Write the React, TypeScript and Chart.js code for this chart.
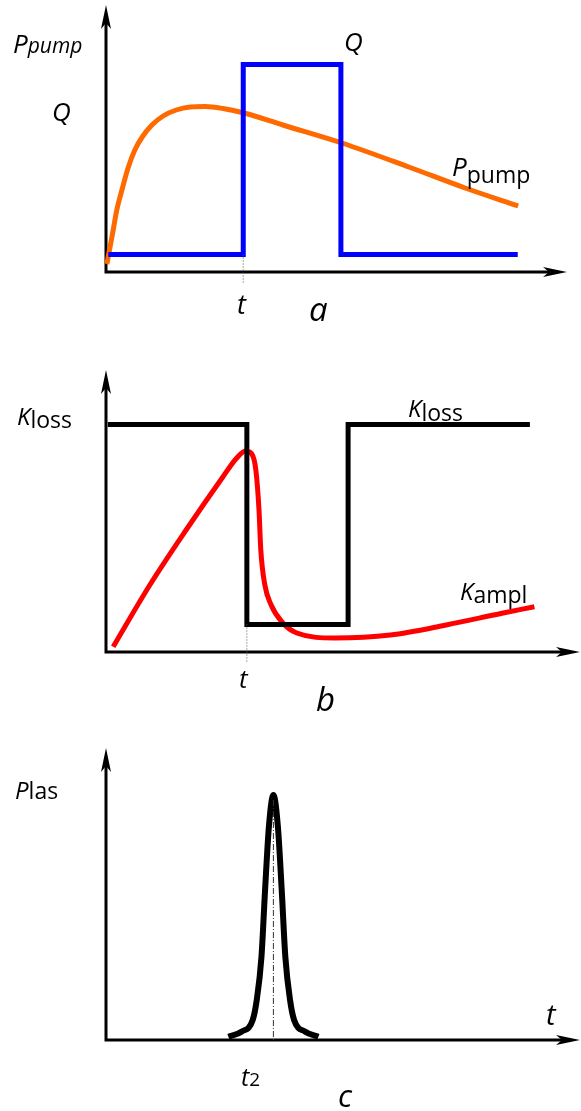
import { useEffect, useRef } from "react";
import { Chart, registerables } from "chart.js";

Chart.register(...registerables);

// Time runs on an arbitrary 0–100 scale, every signal on an arbitrary 0–100 scale.

// (a) pump: Q switching pulse and pump power
const qX = [0.5, 30.5, 30.5, 52.2, 52.2, 91.5];
const qY = [7, 7, 83, 83, 7, 7];
const pumpX = [0.2, 0.9, 1.6, 2.4, 3.6, 4.9, 6.4, 8.2, 10.2, 12.7, 15.6, 18.7, 22, 26, 30.7, 39.3, 52.4, 67.3, 79.8, 91.6];
const pumpY = [3.2, 10, 16.8, 24.8, 33.2, 41.6, 48.8, 54.4, 58.8, 62.4, 64.8, 66, 66.2, 65.4, 63.6, 58.8, 51.6, 42, 33.6, 26.4];
const markAX = [30.5, 30.5];
const markAY = [7, -4.4];

// (b) losses and gain
const lossX = [0.4, 31.3, 31.3, 53.8, 53.8, 94.2];
const lossY = [91, 91, 11, 11, 91, 91];
const amplX = [1.6, 9.5, 17.8, 26, 29, 31, 32.4, 33.3, 34, 34.4, 35.3, 36.7, 39.1, 42.4, 50.9, 63.2, 75.6, 88, 95.2];
const amplY = [2.1, 26.1, 48.8, 70.1, 77.5, 80.4, 79.2, 72.8, 56.8, 40.8, 26.8, 18.8, 12, 7.6, 5.6, 6.8, 10.8, 15.5, 18.1];
const markBX = [31.3, 31.3];
const markBY = [11, -4];

// (c) laser output pulse
const lasX = [27.2, 30.1, 32.6, 33.5, 34.55, 35.35, 36.2, 37.2, 38.2, 39.05, 39.85, 40.9, 41.8, 44.3, 47.2];
const lasY = [1.3, 3.3, 8, 16, 33.3, 60, 85.3, 98, 85.3, 60, 33.3, 16, 8, 3.3, 1.3];
const markCX = [37.2, 37.2];
const markCY = [96, 0];

const FONT = '"Open Sans", "DejaVu Sans", sans-serif';
const W = 581;
const AREA_LEFT = 106;
const AREA_RIGHT = 556;

type Run = { text: string; italic?: boolean; size: number; dy?: number };
type Label = { x: number; y: number; runs: Run[] };
type Series = { xs: number[]; ys: number[]; color: string; width: number; smooth?: boolean; dash?: number[] };
type Panel = {
  top: number;
  height: number;
  areaTop: number;
  areaBottom: number;
  tipX: number;
  tipY: number;
  series: Series[];
  labels: Label[];
};

const panels: Panel[] = [
  {
    top: 0,
    height: 340,
    areaTop: 22,
    areaBottom: 272,
    tipX: 567,
    tipY: 5,
    series: [
      { xs: markAX, ys: markAY, color: "#555", width: 1, dash: [1, 2] },
      { xs: qX, ys: qY, color: "#0000ff", width: 5 },
      { xs: pumpX, ys: pumpY, color: "#ff6a00", width: 5, smooth: true },
    ],
    labels: [
      { x: 13, y: 53, runs: [{ text: "P", italic: true, size: 26 }, { text: "pump", italic: true, size: 21 }] },
      { x: 52, y: 121, runs: [{ text: "Q", italic: true, size: 26 }] },
      { x: 344, y: 51, runs: [{ text: "Q", italic: true, size: 26 }] },
      { x: 452, y: 176, runs: [{ text: "P", italic: true, size: 26 }, { text: "pump", size: 23, dy: 7 }] },
      { x: 237, y: 314, runs: [{ text: "t", italic: true, size: 27 }] },
      { x: 309, y: 321, runs: [{ text: "a", italic: true, size: 33 }] },
    ],
  },
  {
    top: 340,
    height: 385,
    areaTop: 402,
    areaBottom: 652,
    tipX: 580,
    tipY: 370,
    series: [
      { xs: markBX, ys: markBY, color: "#555", width: 1, dash: [1, 2] },
      { xs: lossX, ys: lossY, color: "#000000", width: 5 },
      { xs: amplX, ys: amplY, color: "#ff0000", width: 5, smooth: true },
    ],
    labels: [
      { x: 17, y: 425, runs: [{ text: "K", italic: true, size: 24 }, { text: "loss", size: 23, dy: 3 }] },
      { x: 408, y: 417, runs: [{ text: "K", italic: true, size: 24 }, { text: "loss", size: 23, dy: 4 }] },
      { x: 460, y: 600, runs: [{ text: "K", italic: true, size: 24 }, { text: "ampl", size: 23, dy: 3 }] },
      { x: 239, y: 688, runs: [{ text: "t", italic: true, size: 26 }] },
      { x: 316, y: 711, runs: [{ text: "b", italic: true, size: 33 }] },
    ],
  },
  {
    top: 725,
    height: 386,
    areaTop: 790,
    areaBottom: 1040,
    tipX: 580,
    tipY: 748,
    series: [
      { xs: markCX, ys: markCY, color: "#333", width: 1, dash: [6, 2, 1, 2] },
      { xs: lasX, ys: lasY, color: "#000000", width: 6, smooth: true },
    ],
    labels: [
      { x: 15, y: 799, runs: [{ text: "P", italic: true, size: 24 }, { text: "las", size: 23 }] },
      { x: 546, y: 1025, runs: [{ text: "t", italic: true, size: 29 }] },
      { x: 241, y: 1086, runs: [{ text: "t", italic: true, size: 25 }, { text: "2", size: 19 }] },
      { x: 338, y: 1107, runs: [{ text: "c", italic: true, size: 31 }] },
    ],
  },
];

function arrowHead(ctx: CanvasRenderingContext2D, tipX: number, tipY: number, dx: number, dy: number) {
  const len = 24;
  const half = 5;
  const notch = 6;
  const px = -dy;
  const py = dx;
  const bx = tipX - dx * len;
  const by = tipY - dy * len;
  ctx.beginPath();
  ctx.moveTo(tipX, tipY);
  ctx.lineTo(bx + px * half, by + py * half);
  ctx.lineTo(tipX - dx * (len - notch), tipY - dy * (len - notch));
  ctx.lineTo(bx - px * half, by - py * half);
  ctx.closePath();
  ctx.fill();
}

function PanelChart({ panel }: { panel: Panel }) {
  const ref = useRef<HTMLCanvasElement | null>(null);

  useEffect(() => {
    const canvas = ref.current;
    if (!canvas) return;
    const off = panel.top;

    const axesPlugin = {
      id: "arrowAxes",
      beforeDatasetsDraw(chart: Chart) {
        const ctx = chart.ctx;
        const { left, bottom } = chart.chartArea;
        const tipY = panel.tipY - off;
        const tipX = panel.tipX;
        ctx.save();
        ctx.strokeStyle = "#000";
        ctx.fillStyle = "#000";
        ctx.lineWidth = 3;
        ctx.lineCap = "butt";
        ctx.beginPath();
        ctx.moveTo(left, tipY + 18);
        ctx.lineTo(left, bottom);
        ctx.lineTo(tipX - 18, bottom);
        ctx.stroke();
        arrowHead(ctx, left, tipY, 0, -1);
        arrowHead(ctx, tipX, bottom, 1, 0);
        ctx.restore();
      },
      afterDraw(chart: Chart) {
        const ctx = chart.ctx;
        ctx.save();
        ctx.fillStyle = "#000";
        ctx.textBaseline = "alphabetic";
        ctx.textAlign = "left";
        for (const lab of panel.labels) {
          let x = lab.x;
          for (const r of lab.runs) {
            ctx.font = `${r.italic ? "italic " : ""}${r.size}px ${FONT}`;
            ctx.fillText(r.text, x, lab.y - off + (r.dy || 0));
            x += ctx.measureText(r.text).width;
          }
        }
        ctx.restore();
      },
    };

    const chart = new Chart(canvas, {
      type: "line",
      data: {
        datasets: panel.series.map((s) => ({
          data: s.xs.map((x, i) => ({ x, y: s.ys[i] })),
          borderColor: s.color,
          borderWidth: s.width,
          borderDash: s.dash || [],
          pointRadius: 0,
          fill: false,
          tension: 0,
          cubicInterpolationMode: s.smooth ? "monotone" : "default",
          borderJoinStyle: s.smooth ? "round" : "miter",
          borderCapStyle: "butt",
          clip: false,
        })),
      },
      options: {
        responsive: false,
        animation: false,
        devicePixelRatio: 1,
        layout: {
          padding: {
            left: AREA_LEFT,
            right: W - AREA_RIGHT,
            top: panel.areaTop - off,
            bottom: off + panel.height - panel.areaBottom,
          },
        },
        scales: {
          x: { type: "linear", min: 0, max: 100, display: false },
          y: { type: "linear", min: 0, max: 100, display: false },
        },
        plugins: {
          legend: { display: false },
          tooltip: { enabled: false },
        },
        events: [],
      },
      plugins: [axesPlugin],
    } as any);

    return () => chart.destroy();
  }, [panel]);

  return (
    <canvas
      ref={ref}
      width={W}
      height={panel.height}
      style={{ position: "absolute", left: 0, top: panel.top, width: W, height: panel.height }}
    />
  );
}

export default function App() {
  return (
    <div style={{ position: "absolute", left: 0, top: 0, width: W, height: 1111, background: "#fff" }}>
      {panels.map((p, i) => (
        <PanelChart key={i} panel={p} />
      ))}
    </div>
  );
}
